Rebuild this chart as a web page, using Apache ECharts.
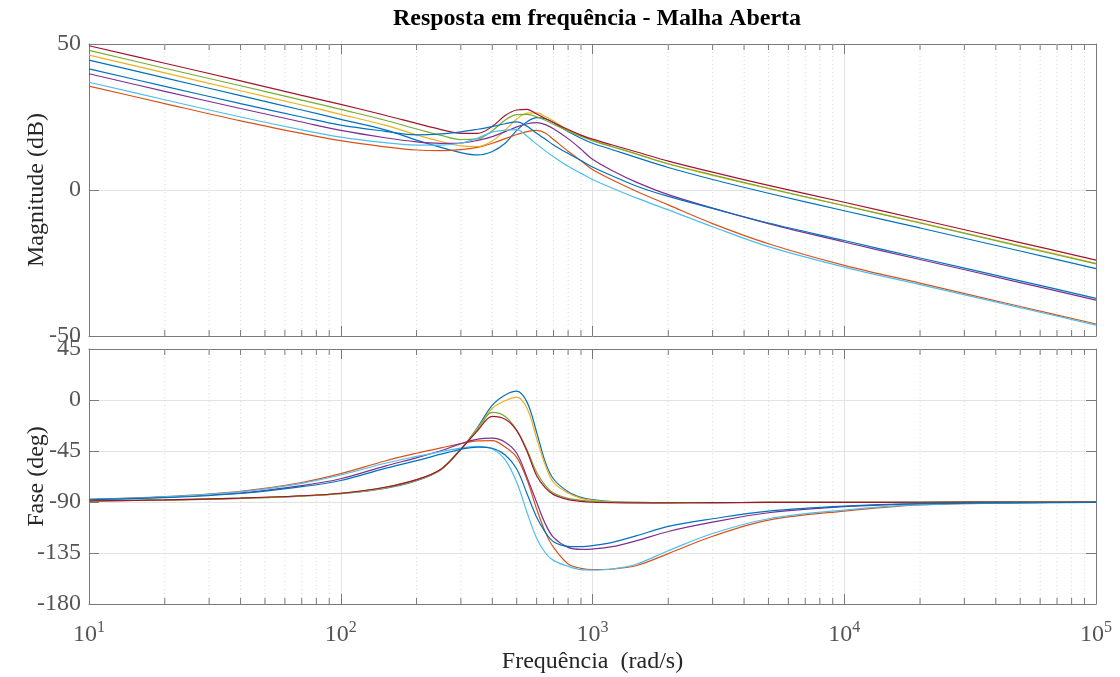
<!DOCTYPE html>
<html><head><meta charset="utf-8">
<script src="https://cdn.jsdelivr.net/npm/echarts@6/dist/echarts.min.js"></script>
<style>html,body{margin:0;padding:0;background:#fff}#c{width:1120px;height:677px}</style>
</head><body><div id="c"></div>
<script>
// Frequencies (rad/s)
const freq = [10, 20, 40, 70, 100, 150, 200, 250, 300, 350, 400, 450, 500, 550, 600, 650, 700, 800, 900, 1000, 1200, 1500, 2000, 3000, 5000, 10000, 20000, 50000, 100000];

// Magnitude (dB)
const magBlueA  = [44.5, 38.4, 32.3, 27.4, 24.2, 20.6, 17.1, 14.6, 12.8, 12.0, 13.2, 16.0, 20.4, 23.4, 24.8, 24.4, 23.1, 20.0, 17.7, 16.0, 13.8, 11.1, 7.7, 3.6, -1.1, -7.1, -13.0, -20.9, -26.9];
const magOrange = [35.6, 29.6, 23.7, 19.4, 16.9, 14.8, 13.7, 13.5, 13.8, 14.6, 16.0, 17.6, 19.0, 20.0, 20.4, 19.5, 17.3, 13.3, 10.0, 7.0, 3.4, -0.5, -5.1, -11.5, -18.4, -25.8, -31.9, -39.9, -45.9];
const magYellow = [46.2, 40.1, 34.0, 29.1, 25.9, 22.2, 18.9, 16.6, 15.1, 14.9, 16.8, 20.5, 24.3, 26.3, 26.4, 25.2, 23.6, 20.6, 18.6, 17.0, 14.8, 12.3, 8.9, 5.0, 0.5, -5.3, -11.2, -19.1, -25.1];
const magPurple = [39.8, 33.8, 27.9, 23.3, 20.4, 17.9, 16.5, 16.0, 16.1, 17.0, 18.3, 20.0, 21.6, 22.7, 23.1, 22.4, 21.0, 17.6, 14.0, 10.5, 6.6, 2.6, -1.6, -6.2, -11.5, -17.8, -23.8, -31.7, -37.7];
const magGreen  = [47.8, 41.7, 35.7, 30.8, 27.6, 23.9, 20.9, 18.7, 17.3, 17.5, 20.3, 24.0, 25.8, 25.9, 25.1, 23.9, 22.5, 20.2, 18.4, 16.9, 14.8, 12.3, 9.0, 5.2, 0.6, -5.4, -11.3, -19.3, -25.3];
const magLight  = [36.9, 30.9, 25.0, 20.6, 18.1, 16.2, 15.4, 15.4, 16.0, 17.8, 19.8, 20.5, 20.7, 18.4, 15.7, 13.4, 11.4, 8.1, 5.7, 3.6, 0.6, -2.8, -6.8, -12.6, -19.4, -26.4, -32.4, -40.3, -46.3];
const magRed    = [49.4, 43.4, 37.4, 32.4, 29.3, 25.6, 22.8, 20.7, 19.4, 19.4, 21.8, 25.5, 27.4, 27.6, 26.0, 24.5, 23.1, 20.7, 18.8, 17.4, 15.4, 13.0, 9.9, 6.1, 1.6, -4.2, -10.1, -18.0, -24.0];
const magBlueB  = [41.5, 35.5, 29.6, 25.0, 22.2, 20.1, 18.9, 19.2, 19.9, 20.8, 21.7, 22.7, 23.3, 21.8, 19.4, 17.4, 15.4, 12.5, 10.1, 7.9, 4.8, 1.3, -2.2, -6.3, -11.3, -17.3, -23.3, -31.1, -37.1];

// Phase (deg)
const phBlueA  = [-89.1, -88.3, -86.8, -84.8, -82.7, -78.0, -71.2, -61.5, -43.5, -24.0, -4.5, 4.5, 7.8, -2.1, -28.5, -55.0, -69.7, -80.9, -85.9, -87.9, -89.6, -90.3, -90.6, -90.5, -90.4, -90.3, -90.2, -90.1, -90.1];
const phOrange = [-87.5, -85.2, -80.5, -72.8, -65.0, -53.8, -47.0, -42.3, -38.5, -36.0, -35.8, -41.5, -50.6, -70.6, -96.2, -116.8, -130.0, -144.7, -148.5, -149.7, -149.1, -146.0, -135.5, -120.2, -106.0, -98.0, -92.6, -90.8, -90.3];
const phYellow = [-89.1, -88.3, -86.8, -84.8, -82.6, -77.6, -70.8, -61.3, -43.3, -25.0, -7.3, -0.6, 2.6, -7.4, -33.8, -57.9, -72.6, -82.1, -86.8, -88.5, -89.9, -90.4, -90.6, -90.5, -90.4, -90.3, -90.2, -90.1, -90.1];
const phPurple = [-87.8, -85.8, -82.0, -75.5, -69.5, -58.3, -51.0, -44.8, -38.5, -34.5, -33.6, -37.2, -47.0, -68.5, -90.3, -109.4, -121.2, -130.0, -131.8, -131.5, -129.4, -124.1, -116.0, -107.8, -99.5, -94.1, -91.6, -90.6, -90.3];
const phGreen  = [-89.0, -88.2, -86.6, -84.5, -82.3, -77.0, -70.3, -61.0, -43.0, -26.0, -11.0, -14.5, -26.5, -44.1, -63.8, -75.6, -82.1, -86.8, -88.5, -89.4, -90.2, -90.5, -90.6, -90.5, -90.4, -90.3, -90.2, -90.1, -90.1];
const phLight  = [-87.6, -85.4, -81.0, -73.5, -66.2, -55.8, -49.8, -45.5, -42.5, -41.0, -43.2, -52.8, -72.6, -99.5, -122.0, -135.0, -141.5, -146.8, -149.7, -150.0, -149.1, -144.7, -133.0, -117.8, -104.8, -97.1, -92.4, -90.7, -90.3];
const phRed    = [-89.0, -88.2, -86.6, -84.5, -82.3, -77.0, -70.3, -61.0, -43.5, -27.0, -14.5, -17.0, -27.0, -45.6, -66.8, -77.6, -83.5, -87.9, -89.5, -90.2, -90.6, -90.7, -90.7, -90.6, -90.4, -90.3, -90.2, -90.1, -90.1];
const phBlueB  = [-88.0, -86.2, -82.5, -76.5, -71.0, -60.3, -53.5, -47.8, -43.5, -41.5, -42.6, -48.5, -60.9, -82.9, -103.5, -116.8, -125.0, -129.1, -129.4, -128.5, -125.6, -119.7, -111.5, -104.8, -98.0, -93.6, -91.5, -90.6, -90.3];

// Axis tick values
const magTicks = [-50, 0, 50];
const phaseTicks = [-180, -135, -90, -45, 0, 45];
const minorMult = [2, 3, 4, 5, 6, 7, 8, 9];
const decades = [10, 100, 1000, 10000];

const titleText = 'Resposta em frequência - Malha Aberta';
const magName = 'Magnitude (dB)';
const phName = 'Fase (deg)';
const xName = 'Frequência  (rad/s)';

const FONT = '"Liberation Serif", "Times New Roman", serif';
const AX = '#7a7a7a';
const LBL = '#555555';
const GRIDC = '#e3e3e3';

const curves = [
  {color: '#0072BD', mag: magBlueA, ph: phBlueA},
  {color: '#D95319', mag: magOrange, ph: phOrange},
  {color: '#EDB120', mag: magYellow, ph: phYellow},
  {color: '#7E2F8E', mag: magPurple, ph: phPurple},
  {color: '#77AC30', mag: magGreen, ph: phGreen},
  {color: '#4DBEEE', mag: magLight, ph: phLight},
  {color: '#A2142F', mag: magRed, ph: phRed},
  {color: '#0072BD', mag: magBlueB, ph: phBlueB}
];

const minorFreqs = [];
decades.forEach(d => minorMult.forEach(m => minorFreqs.push(m * d)));

function xAx(grid, pos, labels, name) {
  return {
    type: 'log', logBase: 10, min: 10, max: 100000, gridIndex: grid, position: pos,
    name: name || '', nameLocation: 'middle', nameGap: 46, nameMoveOverlap: false,
    nameTextStyle: {fontFamily: FONT, fontSize: 24, color: '#262626'},
    axisLine: {show: true, onZero: false, lineStyle: {color: AX, width: 1}},
    axisTick: {show: true, inside: true, length: 10, lineStyle: {color: AX}},
    axisLabel: labels ? {
      show: true, margin: 16,
      formatter: v => '{b|10}{s|' + Math.round(Math.log10(v)) + '}',
      rich: {
        b: {fontFamily: FONT, fontSize: 24, color: LBL, lineHeight: 30},
        s: {fontFamily: FONT, fontSize: 16, color: LBL, lineHeight: 14, verticalAlign: 'top'}
      }
    } : {show: false},
    splitLine: {show: pos === 'bottom', lineStyle: {color: GRIDC, width: 1}}
  };
}
function yAx(grid, pos, ticks, name) {
  return {
    type: 'value', gridIndex: grid, position: pos,
    min: ticks[0], max: ticks[ticks.length - 1], interval: ticks[1] - ticks[0],
    name: pos === 'left' ? name : '', nameLocation: 'middle', nameGap: 40, nameMoveOverlap: false,
    nameTextStyle: {fontFamily: FONT, fontSize: 24, color: '#262626'},
    axisLine: {show: true, onZero: false, lineStyle: {color: AX, width: 1}},
    axisTick: {show: true, inside: true, length: 10, lineStyle: {color: AX}},
    axisLabel: {show: pos === 'left', fontFamily: FONT, fontSize: 24, color: LBL, margin: 8},
    splitLine: {show: pos === 'left', lineStyle: {color: GRIDC, width: 1}}
  };
}

function minorRender(params, api) {
  const x = api.coord([api.value(0), api.value(1)])[0];
  const cs = params.coordSys;
  const top = cs.y, bot = cs.y + cs.height;
  return {
    type: 'group', children: [
      {type: 'line', shape: {x1: x, y1: top, x2: x, y2: bot}, style: {stroke: '#d9d9d9', lineWidth: 1, lineDash: [1, 3]}},
      {type: 'line', shape: {x1: x, y1: bot, x2: x, y2: bot - 6}, style: {stroke: AX, lineWidth: 1}},
      {type: 'line', shape: {x1: x, y1: top, x2: x, y2: top + 6}, style: {stroke: AX, lineWidth: 1}}
    ]
  };
}

const series = [];
[0, 1].forEach(g => {
  series.push({
    type: 'custom', xAxisIndex: g * 2, yAxisIndex: g * 2, z: 1, silent: true,
    renderItem: minorRender, data: minorFreqs.map(f => [f, 0])
  });
});
curves.forEach(c => {
  series.push({
    type: 'line', xAxisIndex: 0, yAxisIndex: 0, showSymbol: false, smooth: 0.35, z: 3,
    lineStyle: {color: c.color, width: 1.2}, itemStyle: {color: c.color},
    data: freq.map((f, i) => [f, c.mag[i]])
  });
  series.push({
    type: 'line', xAxisIndex: 2, yAxisIndex: 2, showSymbol: false, smooth: 0.35, z: 3,
    lineStyle: {color: c.color, width: 1.2}, itemStyle: {color: c.color},
    data: freq.map((f, i) => [f, c.ph[i]])
  });
});

const chart = echarts.init(document.getElementById('c'));
chart.setOption({
  backgroundColor: '#ffffff',
  animation: false,
  title: {text: titleText, left: 592, top: 2, textAlign: 'center',
    textStyle: {fontFamily: FONT, fontSize: 24, fontWeight: 'bold', color: '#000'}},
  grid: [
    {left: 89, right: 24, top: 44, height: 292},
    {left: 89, right: 24, top: 349, height: 255}
  ],
  xAxis: [xAx(0, 'bottom', false), xAx(0, 'top', false), xAx(1, 'bottom', true, xName), xAx(1, 'top', false)],
  yAxis: [yAx(0, 'left', magTicks, magName), yAx(0, 'right', magTicks), yAx(1, 'left', phaseTicks, phName), yAx(1, 'right', phaseTicks)],
  series: series
});
</script></body></html>
